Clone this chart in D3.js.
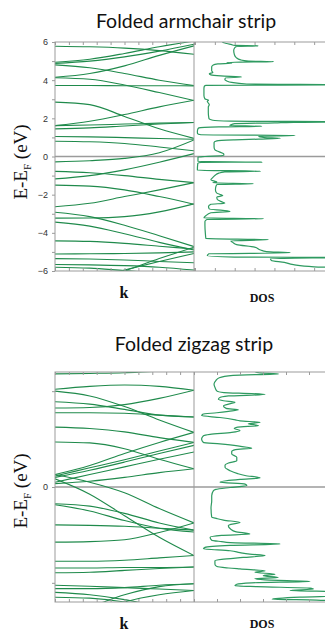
<!DOCTYPE html>
<html>
<head>
<meta charset="utf-8">
<script src="https://cdn.jsdelivr.net/npm/d3@7"></script>
<style>
  body { margin: 0; background: #fff; }
</style>
</head>
<body>
<div id="chart"></div>
<script>
// k points at which each band is sampled (0 = zone centre, 1 = zone edge)
var kPts = [0, 0.25, 0.5, 0.75, 1];

// Folded armchair strip: band energies (eV) at kPts
var armchairBands = [
  [5.78, 5.75, 5.68, 5.55, 5.36],
  [4.94, 5.1, 5.4, 5.75, 6.05],
  [4.88, 5.0, 5.22, 5.52, 5.88],
  [4.15, 4.35, 4.75, 5.3, 5.8],
  [4.8, 4.65, 4.35, 4.0, 3.72],
  [3.72, 3.72, 3.71, 3.71, 3.7],
  [4.13, 4.05, 3.75, 3.35, 2.93],
  [2.85, 2.72, 2.1, 1.45, 0.95],
  [1.62, 1.85, 2.2, 2.6, 2.95],
  [1.62, 1.65, 1.7, 1.75, 1.78],
  [1.45, 1.5, 1.6, 1.7, 1.78],
  [1.05, 1.03, 0.99, 0.94, 0.9],
  [0.8, 0.77, 0.68, 0.5, 0.3],
  [-0.28, -0.22, -0.1, 0.2, 0.87],
  [-1.17, -1.0, -0.7, -0.3, 0.15],
  [-0.78, -0.85, -1.0, -1.2, -1.37],
  [-1.5, -1.55, -1.75, -2.1, -2.5],
  [-2.63, -2.45, -2.1, -1.75, -1.37],
  [-2.92, -3.15, -3.6, -4.15, -4.72],
  [-3.23, -3.22, -3.15, -2.9, -2.48],
  [-3.44, -3.65, -4.05, -4.5, -4.9],
  [-4.42, -4.45, -4.55, -4.7, -4.85],
  [-5.11, -5.1, -5.08, -5.05, -5.0],
  [-5.35, -5.37, -5.42, -5.5, -5.57],
  [-5.66, -5.68, -5.72, -5.8, -5.95],
  [-5.8, -5.85, -5.98, -6.1, -6.2],
  [-7.2, -6.6, -6.0, -5.35, -4.75],
  [-6.8, -6.4, -5.95, -5.5, -5.08]
];

// Folded armchair strip: DOS as [E (eV), DOS]
var armchairDos = [
  [6.05,1.35],[5.97,1.42],[5.92,1.6],[5.86,1.85],[5.82,2.0],[5.8,3.19],[5.77,2.1],[5.7,2.0],[5.55,1.95],
  [5.35,1.98],[5.18,2.08],[5.06,2.3],[5.0,2.7],[4.97,3.95],[4.94,2.0],[4.91,1.6],[4.88,1.85],[4.85,1.15],
  [4.8,0.92],[4.7,0.84],[4.5,0.84],[4.4,0.9],[4.34,0.72],[4.28,0.8],[4.22,1.3],[4.16,2.35],[4.12,1.55],
  [4.05,1.5],[3.96,1.6],[3.88,1.85],[3.8,2.6],[3.76,8],[3.73,0.55],[3.68,0.47],[3.55,0.45],[3.2,0.45],
  [3.02,0.5],[2.95,0.68],[2.9,0.62],[2.8,0.67],[2.71,0.72],[2.6,0.67],[2.3,0.67],[2.0,0.7],[1.9,0.9],
  [1.85,1.8],[1.82,8],[1.79,4.96],[1.76,4.0],[1.72,2.0],[1.66,1.8],[1.62,1.75],[1.58,3.36],[1.55,1.2],
  [1.5,0.2],[1.45,0.15],[1.3,0.12],[1.2,0.13],[1.14,0.3],[1.1,5.04],[1.06,3.2],[1.02,3.28],[0.99,3.5],
  [0.95,4.3],[0.91,3.2],[0.87,2.0],[0.82,1.1],[0.74,0.96],[0.5,0.96],[0.35,1.0],[0.26,1.18],[0.12,1.45],
  [0.05,1.45],[0.0,0.5],[-0.03,0.15],[-0.26,0.15],[-0.29,3.36],[-0.31,0.3],[-0.36,0.14],[-0.72,0.12],
  [-0.77,3.3],[-0.81,1.5],[-0.87,1.2],[-1.0,1.0],[-1.12,0.88],[-1.22,0.8],[-1.28,0.95],[-1.33,1.1],
  [-1.38,0.9],[-1.43,2.95],[-1.47,1.1],[-1.58,1.05],[-1.75,1.03],[-1.9,1.08],[-2.0,1.3],[-2.05,1.4],
  [-2.12,1.1],[-2.25,1.12],[-2.4,1.4],[-2.45,1.5],[-2.5,0.8],[-2.62,0.68],[-2.75,0.72],[-2.82,1.4],
  [-2.88,1.76],[-2.95,0.8],[-3.1,0.55],[-3.22,0.45],[-3.26,3.45],[-3.3,0.6],[-3.4,0.5],[-3.6,0.5],
  [-4.0,0.52],[-4.3,0.55],[-4.36,3.7],[-4.42,1.8],[-4.5,1.9],[-4.62,2.1],[-4.75,3.0],[-4.9,3.3],
  [-4.98,3.6],[-5.05,4.8],[-5.1,0.7],[-5.2,0.62],[-5.27,2],[-5.29,8],[-5.35,3.8],[-5.45,3.85],
  [-5.55,4.5],[-5.67,4.96],[-5.78,6],[-5.85,8],[-6.05,8]
];

// Folded zigzag strip: band energies (eV) at kPts
var zigzagBands = [
  [2.36, 2.37, 2.385, 2.42, 2.5],
  [2.04, 2.1, 2.13, 2.1, 2.02],
  [2.0, 1.9, 1.68, 1.4, 1.14],
  [1.78, 1.73, 1.62, 1.5, 1.46],
  [1.65, 1.66, 1.72, 1.85, 2.02],
  [1.55, 1.55, 1.54, 1.5, 1.46],
  [1.25, 1.22, 1.15, 1.03, 0.93],
  [0.94, 0.92, 0.8, 0.58, 0.38],
  [0.26, 0.45, 0.7, 0.93, 1.14],
  [0.23, 0.4, 0.57, 0.75, 0.93],
  [0.2, 0.35, 0.52, 0.7, 0.87],
  [0.1, 0.26, 0.42, 0.58, 0.73],
  [0.07, 0.12, 0.2, 0.3, 0.38],
  [0.26, 0.1, -0.12, -0.45, -0.75],
  [0.17, -0.15, -0.6, -1.05, -1.43],
  [-0.35, -0.4, -0.55, -0.75, -0.9],
  [-0.37, -0.5, -0.7, -0.86, -0.94],
  [-0.79, -0.8, -0.82, -0.86, -0.9],
  [-1.15, -1.14, -1.1, -0.95, -0.75],
  [-1.55, -1.55, -1.53, -1.48, -1.43],
  [-1.69, -1.69, -1.68, -1.68, -1.67],
  [-1.79, -1.78, -1.74, -1.7, -1.67],
  [-2.05, -2.07, -2.1, -2.13, -2.16],
  [-2.12, -2.12, -2.1, -2.05, -2.02],
  [-2.7, -2.5, -2.25, -2.08, -2.02],
  [-2.2, -2.25, -2.35, -2.5, -2.65],
  [-2.3, -2.32, -2.4, -2.55, -2.7],
  [-2.9, -2.65, -2.4, -2.25, -2.16]
];

// Folded zigzag strip: DOS as [E (eV), DOS]
var zigzagDos = [
  [2.42,2.6],[2.38,2.87],[2.36,3.67],[2.33,1.7],[2.28,1.1],[2.22,0.95],[2.15,0.87],[2.08,0.91],[2.0,1.0],
  [1.97,1.3],[1.95,2.5],[1.93,3.09],[1.9,1.5],[1.86,1.1],[1.83,1.06],[1.8,1.28],[1.77,1.78],[1.73,1.5],
  [1.69,1.28],[1.64,1.4],[1.61,1.93],[1.58,1.5],[1.55,0.99],[1.52,0.38],[1.49,0.33],[1.45,1.13],[1.4,1.8],
  [1.38,2.0],[1.35,2.87],[1.32,2.36],[1.28,2.8],[1.25,1.9],[1.22,1.75],[1.18,2.0],[1.14,1.64],[1.1,0.7],
  [1.07,0.41],[1.0,0.33],[0.93,0.41],[0.9,1.13],[0.86,1.9],[0.83,2.3],[0.81,2.51],[0.78,1.8],[0.74,1.64],
  [0.69,1.64],[0.62,1.86],[0.55,1.86],[0.5,1.5],[0.46,1.35],[0.41,1.35],[0.34,1.57],[0.28,1.9],[0.24,2.22],
  [0.19,2.87],[0.16,2.0],[0.13,1.4],[0.1,1.13],[0.06,2.22],[0.03,2.3],[-0.01,1.57],[-0.05,0.95],[-0.08,0.84],
  [-0.18,0.77],[-0.29,0.77],[-0.43,0.74],[-0.63,0.77],[-0.66,1.0],[-0.69,1.28],[-0.74,2.0],[-0.78,1.6],
  [-0.81,1.49],[-0.88,1.6],[-0.93,1.8],[-0.98,2.43],[-1.01,1.2],[-1.05,0.7],[-1.11,0.77],[-1.14,1.2],
  [-1.16,1.57],[-1.19,3.74],[-1.22,1.57],[-1.26,0.48],[-1.29,0.41],[-1.33,1.57],[-1.37,2.0],[-1.4,2.43],
  [-1.43,3.09],[-1.47,2.14],[-1.51,1.2],[-1.54,0.91],[-1.61,0.91],[-1.66,1.0],[-1.69,1.5],[-1.71,2.0],
  [-1.75,3.09],[-1.78,2.65],[-1.82,3.52],[-1.85,3.01],[-1.89,3.67],[-1.91,2.65],[-1.94,3.09],[-1.97,5.04],
  [-2.0,2.5],[-2.03,1.86],[-2.06,1.78],[-2.08,2.72],[-2.11,5.04],[-2.13,5.19],[-2.16,4.17],[-2.19,6.5],
  [-2.27,6.5],[-2.3,4.61],[-2.34,3.4],[-2.36,5.33],[-2.39,6.5],[-2.45,6.5]
];

var armchairTicks = [-6, -5, -4, -3, -2, -1, 0, 1, 2, 3, 4, 5, 6];
var armchairLabels = [-6, -4, -2, 0, 2, 4, 6];
var zigzagTicks = [-2, 0, 2];
var zigzagLabels = [0];

var W = 325, H = 632;
var BAND = '#1f8a4b', DOSC = '#2e9a60', FRAME = '#9b9b9b';
var SERIF = '"Liberation Serif", "DejaVu Serif", serif';
var SANS = '"Liberation Sans", Arial, sans-serif';

var svg = d3.select('#chart').append('svg').attr('width', W).attr('height', H);
var defs = svg.append('defs');
var bandX = d3.scaleLinear().domain([0, 1]).range([55, 194]);

function panel(o) {
  var y = d3.scaleLinear().domain(o.eRange).range([o.bottom, o.top]);
  var dx = d3.scaleLinear().domain([0, o.dosMax]).range([o.dosLeft, o.dosRight]);

  defs.append('clipPath').attr('id', o.id + '-b').append('rect')
    .attr('x', 55).attr('y', o.top).attr('width', 139).attr('height', o.bottom - o.top);
  defs.append('clipPath').attr('id', o.id + '-d').append('rect')
    .attr('x', 194).attr('y', o.top).attr('width', W - 194).attr('height', o.bottom - o.top);

  // zero line
  svg.append('line').attr('x1', 55).attr('x2', W).attr('y1', y(0)).attr('y2', y(0))
    .attr('stroke', FRAME).attr('stroke-width', 1.3);

  var bandLine = d3.line()
    .x(function(d, i) { return bandX(kPts[i]); })
    .y(function(d) { return y(d); })
    .curve(d3.curveMonotoneX);
  svg.append('g').attr('clip-path', 'url(#' + o.id + '-b)')
    .selectAll('path').data(o.bands).join('path')
    .attr('d', bandLine).attr('fill', 'none').attr('stroke', BAND).attr('stroke-width', 1.1);

  var dosLine = d3.line()
    .x(function(d) { return dx(d[1]); })
    .y(function(d) { return y(d[0]); })
    .curve(d3.curveMonotoneY);
  svg.append('g').attr('clip-path', 'url(#' + o.id + '-d)')
    .append('path').datum(o.dos)
    .attr('d', dosLine).attr('fill', 'none').attr('stroke', DOSC).attr('stroke-width', 1.2);

  // frame
  var fr = svg.append('g').attr('fill', 'none').attr('stroke', FRAME).attr('stroke-width', 1);
  fr.append('rect').attr('x', 55).attr('y', o.top).attr('width', W + 10 - 55).attr('height', o.bottom - o.top);
  fr.append('line').attr('x1', 194).attr('x2', 194).attr('y1', o.top).attr('y2', o.bottom);

  // inward k ticks and DOS ticks
  var kTicks = d3.range(0, 1.0001, 0.1);
  var dTicks = d3.range(0, o.dosMax + 0.001, 1);
  [[o.top, d3.axisTop, -3], [o.bottom, d3.axisBottom, -3]].forEach(function(a) {
    svg.append('g').attr('transform', 'translate(0,' + a[0] + ')')
      .call(a[1](bandX).tickValues(kTicks).tickSize(a[2]).tickFormat(''))
      .call(function(g) { g.select('.domain').remove(); g.selectAll('line').attr('stroke', FRAME); });
    svg.append('g').attr('transform', 'translate(0,' + a[0] + ')')
      .call(a[1](dx).tickValues(dTicks).tickSize(a[2]).tickFormat(''))
      .call(function(g) { g.select('.domain').remove(); g.selectAll('line').attr('stroke', FRAME); });
  });

  // energy axis
  svg.append('g').attr('transform', 'translate(55,0)')
    .call(d3.axisLeft(y).tickValues(o.ticks).tickSize(3).tickPadding(4)
      .tickFormat(function(d) { return o.labels.indexOf(d) >= 0 ? d3.format('d')(d) : ''; }))
    .call(function(g) {
      g.select('.domain').remove();
      g.selectAll('line').attr('stroke', FRAME);
      g.selectAll('text').attr('font-family', SANS).attr('font-size', '9px').attr('fill', '#333');
    });

  // title
  svg.append('text').attr('x', o.titleX).attr('y', o.titleY).attr('text-anchor', 'middle')
    .attr('font-family', 'Lato, "Open Sans", sans-serif').attr('font-size', '19.5px').attr('fill', '#111')
    .text(o.title);

  // axis titles
  var yl = svg.append('text').attr('transform', 'translate(27,' + o.labelY + ') rotate(-90)')
    .attr('text-anchor', 'middle').attr('font-family', SERIF).attr('font-size', '19px').attr('fill', '#111');
  yl.append('tspan').text('E-E');
  yl.append('tspan').attr('dy', 4).attr('font-size', '11px').text('F');
  yl.append('tspan').attr('dy', -4).text(' (eV)');

  svg.append('text').attr('x', 124).attr('y', o.bottom + 27).attr('text-anchor', 'middle')
    .attr('font-family', SERIF).attr('font-weight', 'bold').attr('font-size', '16px').attr('fill', '#111')
    .text('k');
  svg.append('text').attr('x', 262).attr('y', Math.min(o.bottom + 31, H - 4)).attr('text-anchor', 'middle')
    .attr('font-family', SERIF).attr('font-weight', 'bold').attr('font-size', '12px').attr('fill', '#111')
    .text('DOS');
}

panel({
  id: 'arm', top: 42, bottom: 271, eRange: [-6, 6],
  bands: armchairBands, dos: armchairDos, dosMax: 7, dosLeft: 195, dosRight: 334,
  ticks: armchairTicks, labels: armchairLabels,
  title: 'Folded armchair strip', titleX: 186, titleY: 28, labelY: 162
});

panel({
  id: 'zig', top: 372, bottom: 602, eRange: [-2.4, 2.4],
  bands: zigzagBands, dos: zigzagDos, dosMax: 6, dosLeft: 194, dosRight: 332,
  ticks: zigzagTicks, labels: zigzagLabels,
  title: 'Folded zigzag strip', titleX: 194, titleY: 351, labelY: 491
});
</script>
</body>
</html>
